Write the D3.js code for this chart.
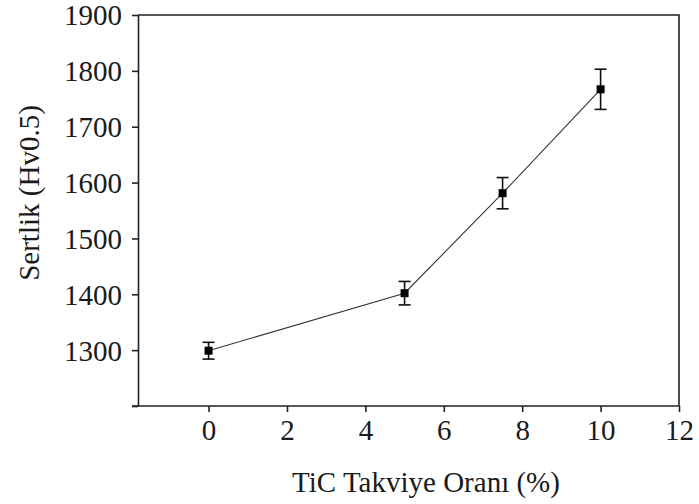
<!DOCTYPE html>
<html>
<head>
<meta charset="utf-8">
<script src="https://cdn.jsdelivr.net/npm/d3@7"></script>
<style>
  body { margin: 0; background: #fff; }
  svg text { font-family: "Liberation Serif", "Times New Roman", serif; fill: #1a1a1a; }
</style>
</head>
<body>
<div class="chart"></div>
<script>
// data
var ratio = [0, 5, 7.5, 10];
var hardness = [1299, 1402, 1581, 1767];
var errors = [15, 21, 28, 36];
var xTicks = [0, 2, 4, 6, 8, 10, 12];
var yTicks = [1200, 1300, 1400, 1500, 1600, 1700, 1800, 1900];

var svgWidth = 699;
var svgHeight = 504;
var margin = { top: 15, right: 20, bottom: 98, left: 138 };
var width = svgWidth - margin.left - margin.right;
var height = svgHeight - margin.top - margin.bottom;

var svg = d3.select(".chart").append("svg")
  .attr("width", svgWidth)
  .attr("height", svgHeight);

var chart = svg.append("g")
  .attr("transform", "translate(" + margin.left + "," + margin.top + ")");

var x = d3.scaleLinear().domain([-1.8, 12]).range([0, width]);
var y = d3.scaleLinear().domain([1200, 1900]).range([height, 0]);

// frame (top and right)
chart.append("path")
  .attr("d", "M0,0H" + width + "V" + height)
  .attr("fill", "none")
  .attr("stroke", "#222")
  .attr("stroke-width", 1.6);

// axes
var xAxis = chart.append("g")
  .attr("transform", "translate(0," + height + ")")
  .call(d3.axisBottom(x).tickValues(xTicks).tickSize(6).tickSizeOuter(0));
xAxis.select(".domain").remove();
xAxis.append("line")
  .attr("x1", -6).attr("x2", width)
  .attr("stroke", "#222").attr("stroke-width", 1.6);
xAxis.selectAll(".tick line").attr("stroke", "#222").attr("stroke-width", 1.6);
xAxis.selectAll(".tick text")
  .attr("dy", null).attr("y", 34)
  .style("font-size", "29px");

var yAxis = chart.append("g")
  .call(d3.axisLeft(y).tickValues(yTicks).tickSize(6).tickSizeOuter(0)
    .tickFormat(function(d) { return d === 1200 ? "" : d; }));
yAxis.select(".domain").attr("stroke", "#222").attr("stroke-width", 1.6);
yAxis.selectAll(".tick line").attr("stroke", "#222").attr("stroke-width", 1.6);
yAxis.selectAll(".tick text")
  .attr("x", -16).attr("dy", "0.34em")
  .style("font-size", "29px");

var points = ratio.map(function(r, i) {
  return { x: r, y: hardness[i], e: errors[i] };
});

// connecting line
chart.append("path")
  .datum(points)
  .attr("fill", "none")
  .attr("stroke", "#333")
  .attr("stroke-width", 1.1)
  .attr("d", d3.line()
    .x(function(d) { return x(d.x); })
    .y(function(d) { return y(d.y); }));

// error bars
var bars = chart.selectAll(".err").data(points).enter().append("g")
  .attr("class", "err")
  .attr("stroke", "#111")
  .attr("stroke-width", 1.6);
bars.append("line")
  .attr("x1", function(d) { return x(d.x); })
  .attr("x2", function(d) { return x(d.x); })
  .attr("y1", function(d) { return y(d.y - d.e); })
  .attr("y2", function(d) { return y(d.y + d.e); });
bars.append("line")
  .attr("x1", function(d) { return x(d.x) - 6; })
  .attr("x2", function(d) { return x(d.x) + 6; })
  .attr("y1", function(d) { return y(d.y + d.e); })
  .attr("y2", function(d) { return y(d.y + d.e); });
bars.append("line")
  .attr("x1", function(d) { return x(d.x) - 6; })
  .attr("x2", function(d) { return x(d.x) + 6; })
  .attr("y1", function(d) { return y(d.y - d.e); })
  .attr("y2", function(d) { return y(d.y - d.e); });

// markers
chart.selectAll(".pt").data(points).enter().append("rect")
  .attr("class", "pt")
  .attr("x", function(d) { return x(d.x) - 4; })
  .attr("y", function(d) { return y(d.y) - 4; })
  .attr("width", 8)
  .attr("height", 8)
  .attr("fill", "#000");

// axis titles
svg.append("text")
  .attr("x", 426)
  .attr("y", 492)
  .attr("text-anchor", "middle")
  .style("font-size", "29px")
  .text("TiC Takviye Oranı (%)");

svg.append("text")
  .attr("transform", "translate(39," + 193 + ") rotate(-90)")
  .attr("text-anchor", "middle")
  .style("font-size", "29px")
  .text("Sertlik (Hv0.5)");
</script>
</body>
</html>
